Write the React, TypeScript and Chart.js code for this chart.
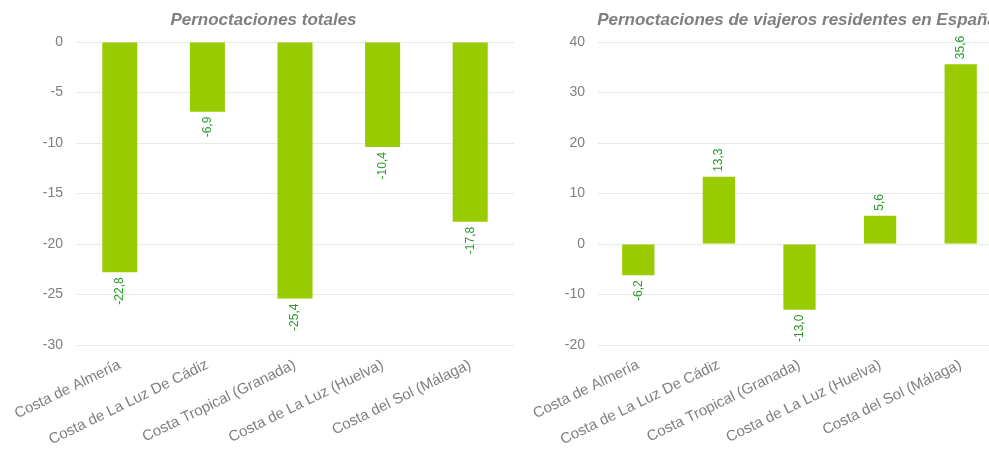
import React, { useEffect, useRef } from "react";
import { Chart, registerables } from "chart.js";

Chart.register(...registerables);

const categories = [
  "Costa de Almería",
  "Costa de La Luz De Cádiz",
  "Costa Tropical (Granada)",
  "Costa de La Luz (Huelva)",
  "Costa del Sol (Málaga)",
];
const totalValues = [-22.8, -6.9, -25.4, -10.4, -17.8];
const residentValues = [-6.2, 13.3, -13.0, 5.6, 35.6];
const totalTitle = "Pernoctaciones totales";
const residentTitle = "Pernoctaciones de viajeros residentes en España";

const FONT = "'Liberation Sans', Arial, sans-serif";
const BAR = "#99cc00";
const LABEL = "#2a9a2a";
const GRAY = "#7f7f7f";

const titlePlugin = {
  id: "centerTitle",
  afterDraw(chart: any, _args: any, opts: any) {
    const ctx = chart.ctx;
    ctx.save();
    ctx.font = `italic bold 17px ${FONT}`;
    ctx.fillStyle = GRAY;
    ctx.textAlign = "center";
    ctx.textBaseline = "middle";
    ctx.fillText(opts.text, chart.width / 2, 20);
    ctx.restore();
  },
};

const valueLabels = {
  id: "valueLabels",
  afterDatasetsDraw(chart: any) {
    const ctx = chart.ctx;
    const meta = chart.getDatasetMeta(0);
    const data = chart.data.datasets[0].data as number[];
    ctx.save();
    ctx.font = `12px ${FONT}`;
    ctx.fillStyle = LABEL;
    ctx.textBaseline = "middle";
    meta.data.forEach((el: any, i: number) => {
      const v = data[i];
      const txt = v.toFixed(1).replace(".", ",");
      const gap = 5;
      ctx.save();
      if (v < 0) {
        ctx.translate(el.x, el.y + gap);
        ctx.rotate(-Math.PI / 2);
        ctx.textAlign = "right";
      } else {
        ctx.translate(el.x, el.y - gap);
        ctx.rotate(-Math.PI / 2);
        ctx.textAlign = "left";
      }
      ctx.fillText(txt, 0, 0);
      ctx.restore();
    });
    ctx.restore();
  },
};

type PanelProps = {
  title: string;
  values: number[];
  min: number;
  max: number;
  step: number;
  left: number;
  width: number;
  padRight: number;
};

function Panel({ title, values, min, max, step, left, width, padRight }: PanelProps) {
  const ref = useRef<HTMLCanvasElement | null>(null);
  useEffect(() => {
    if (!ref.current) return;
    const chart = new Chart(ref.current, {
      type: "bar",
      data: {
        labels: categories,
        datasets: [
          {
            data: values,
            backgroundColor: BAR,
            borderWidth: 0,
            barPercentage: 0.8,
            categoryPercentage: 0.5,
          },
        ],
      },
      options: {
        responsive: false,
        animation: false,
        layout: { padding: { top: 42, right: padRight, left: 0, bottom: 0 } },
        plugins: {
          legend: { display: false },
          tooltip: { enabled: false },
          title: { display: false },
          centerTitle: { text: title },
        } as any,
        scales: {
          x: {
            grid: { display: false },
            border: { display: false },
            ticks: {
              minRotation: 26,
              maxRotation: 26,
              autoSkip: false,
              padding: 3,
              color: GRAY,
              font: { family: FONT, size: 15 },
            },
            afterFit: (s: any) => {
              s.height = 107;
            },
          },
          y: {
            min,
            max,
            grid: { color: "#e2ede2", drawTicks: false, lineWidth: 1 },
            border: { display: false },
            ticks: {
              stepSize: step,
              padding: 13,
              color: GRAY,
              font: { family: FONT, size: 14 },
            },
            afterFit: (s: any) => {
              s.width = 76;
            },
          },
        },
      },
      plugins: [titlePlugin, valueLabels],
    });
    return () => chart.destroy();
  }, []);
  return (
    <canvas
      ref={ref}
      width={width}
      height={452}
      style={{ position: "absolute", left, top: 0, width, height: 452 }}
    />
  );
}

export default function App() {
  return (
    <div
      style={{
        position: "absolute",
        left: 0,
        top: 0,
        width: 989,
        height: 452,
        overflow: "hidden",
        background: "#fff",
      }}
    >
      <Panel title={totalTitle} values={totalValues} min={-30} max={0} step={5} left={0} width={527} padRight={13} />
      <Panel title={residentTitle} values={residentValues} min={-20} max={40} step={10} left={522} width={550} padRight={71} />
    </div>
  );
}
